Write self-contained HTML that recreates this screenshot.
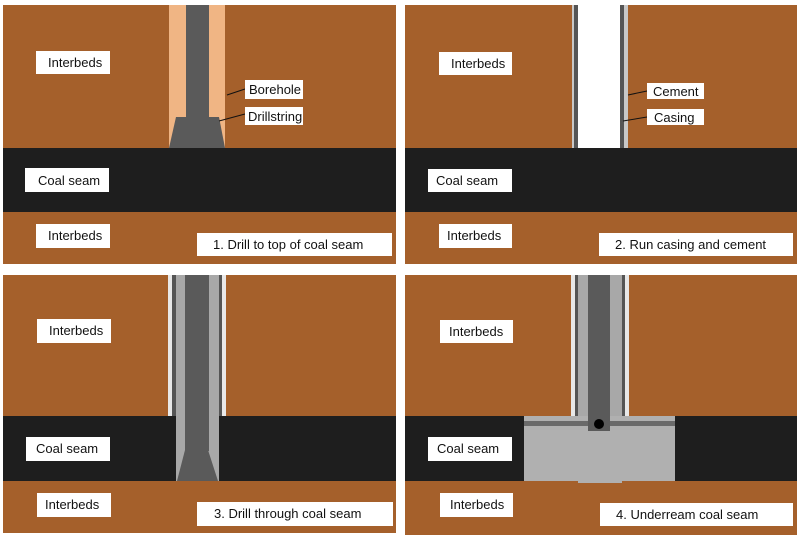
<!DOCTYPE html>
<html><head><meta charset="utf-8"><style>
html,body{margin:0;padding:0;background:#fff;}
svg{display:block;}
text{font-family:"Liberation Sans",Arial,sans-serif;font-size:13px;fill:#111;}
</style></head><body>
<svg width="800" height="540" viewBox="0 0 800 540" xmlns="http://www.w3.org/2000/svg">
<rect width="800" height="540" fill="#fff"/>
<!-- Panel 1 -->
<rect x="3" y="5" width="393" height="259" fill="#a5602b"/>
<rect x="3" y="148" width="393" height="64" fill="#1e1e1e"/>
<rect x="169" y="5" width="56" height="143" fill="#f0b584"/>
<rect x="186" y="5" width="23" height="113" fill="#5a5a5a"/>
<polygon points="176,117 219,117 225,148 169,148" fill="#5a5a5a"/>
<line x1="227" y1="95" x2="245" y2="89" stroke="#111" stroke-width="1"/>
<line x1="219" y1="121" x2="245" y2="114" stroke="#111" stroke-width="1"/>
<rect x="36" y="51" width="74" height="23" fill="#fff"/><text x="48" y="67">Interbeds</text>
<rect x="245" y="80" width="58" height="19" fill="#fff"/><text x="249" y="94">Borehole</text>
<rect x="245" y="107" width="58" height="18" fill="#fff"/><text x="248" y="121">Drillstring</text>
<rect x="25" y="168" width="84" height="24" fill="#fff"/><text x="38" y="185">Coal seam</text>
<rect x="36" y="224" width="74" height="24" fill="#fff"/><text x="48" y="240">Interbeds</text>
<rect x="197" y="233" width="195" height="23" fill="#fff"/><text x="213" y="249">1. Drill to top of coal seam</text>
<!-- Panel 2 -->
<rect x="405" y="5" width="392" height="259" fill="#a5602b"/>
<rect x="405" y="148" width="392" height="64" fill="#1e1e1e"/>
<rect x="572" y="5" width="56" height="143" fill="#c8c8c8"/>
<rect x="574" y="5" width="4" height="143" fill="#555"/>
<rect x="620" y="5" width="4" height="143" fill="#555"/>
<rect x="578" y="5" width="42" height="143" fill="#fff"/>
<line x1="628" y1="95" x2="647" y2="91" stroke="#111"/>
<line x1="623" y1="121" x2="647" y2="117" stroke="#111"/>
<rect x="439" y="52" width="73" height="23" fill="#fff"/><text x="451" y="68">Interbeds</text>
<rect x="647" y="83" width="57" height="16" fill="#fff"/><text x="653" y="96">Cement</text>
<rect x="647" y="109" width="57" height="16" fill="#fff"/><text x="654" y="122">Casing</text>
<rect x="428" y="169" width="84" height="23" fill="#fff"/><text x="436" y="185">Coal seam</text>
<rect x="439" y="224" width="73" height="24" fill="#fff"/><text x="447" y="240">Interbeds</text>
<rect x="599" y="233" width="194" height="23" fill="#fff"/><text x="615" y="249">2. Run casing and cement</text>
<!-- Panel 3 -->
<rect x="3" y="275" width="393" height="258" fill="#a5602b"/>
<rect x="3" y="416" width="393" height="65" fill="#1e1e1e"/>
<rect x="168" y="275" width="58" height="141" fill="#e8e8e8"/>
<rect x="172" y="275" width="50" height="141" fill="#555"/>
<rect x="176" y="275" width="43" height="206" fill="#a8a8a8"/>
<rect x="185" y="275" width="24" height="176" fill="#5a5a5a"/>
<polygon points="185,450 208,450 218,481 177,481" fill="#5a5a5a"/>
<rect x="37" y="319" width="74" height="24" fill="#fff"/><text x="49" y="335">Interbeds</text>
<rect x="26" y="437" width="84" height="24" fill="#fff"/><text x="36" y="453">Coal seam</text>
<rect x="37" y="493" width="74" height="24" fill="#fff"/><text x="45" y="509">Interbeds</text>
<rect x="197" y="502" width="196" height="24" fill="#fff"/><text x="214" y="518">3. Drill through coal seam</text>
<!-- Panel 4 -->
<rect x="405" y="275" width="392" height="260" fill="#a5602b"/>
<rect x="405" y="416" width="392" height="65" fill="#1e1e1e"/>
<rect x="571" y="275" width="58" height="141" fill="#e8e8e8"/>
<rect x="575" y="275" width="50" height="141" fill="#555"/>
<rect x="578" y="275" width="44" height="141" fill="#a8a8a8"/>
<rect x="524" y="416" width="151" height="65" fill="#b0b0b0"/>
<rect x="578" y="481" width="44" height="2" fill="#b0b0b0"/>
<rect x="524" y="421" width="151" height="5" fill="#6a6a6a"/>
<rect x="588" y="275" width="22" height="156" fill="#5a5a5a"/>
<circle cx="599" cy="424" r="5" fill="#000"/>
<rect x="440" y="320" width="73" height="23" fill="#fff"/><text x="449" y="336">Interbeds</text>
<rect x="428" y="437" width="84" height="24" fill="#fff"/><text x="437" y="453">Coal seam</text>
<rect x="440" y="493" width="73" height="24" fill="#fff"/><text x="450" y="509">Interbeds</text>
<rect x="600" y="503" width="193" height="23" fill="#fff"/><text x="616" y="519">4. Underream coal seam</text>
</svg>
</body></html>
